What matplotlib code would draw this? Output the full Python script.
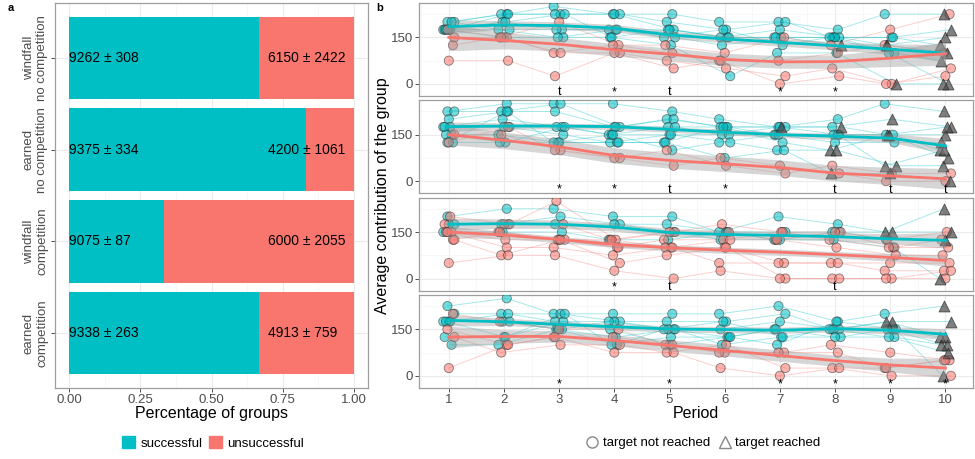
import numpy as np
import matplotlib
matplotlib.use("Agg")
import matplotlib.pyplot as plt
from matplotlib.lines import Line2D
from matplotlib.patches import Patch

plt.rcParams["font.family"] = ["Liberation Sans", "DejaVu Sans"]

TEAL = "#00BFC4"
SALMON = "#F8766D"
GREY_TXT = "#4D4D4D"
BORDER = "#9E9E9E"

# ---- panel a: share of successful groups per condition (top to bottom)
CONDITIONS = ["windfall\nno competition", "earned\nno competition",
              "windfall\ncompetition", "earned\ncompetition"]
SUCCESS_SHARE = [0.667, 0.833, 0.333, 0.667]
SUCCESS_LABELS = ["9262 ± 308", "9375 ± 334", "9075 ± 87", "9338 ± 263"]
FAIL_LABELS = ["6150 ± 2422", "4200 ± 1061", "6000 ± 2055", "4913 ± 759"]

# ---- panel b: contribution of each group per period, one facet per condition
PERIODS = list(range(1, 11))

F1_SUCCESS = [
    [200, 225, 250, 225, 225, 200, 200, 175, 225, 225],
    [200, 225, 225, 225, 200, 175, 200, 150, 150, 175],
    [175, 225, 225, 225, 175, 150, 175, 150, 125, 150],
    [175, 200, 175, 175, 175, 150, 150, 150, 150, 125],
    [175, 175, 175, 175, 150, 125, 150, 125, 125, 100],
    [175, 150, 150, 150, 175, 150, 150, 150, 100, 75],
    [200, 175, 150, 175, 150, 175, 125, 150, 100, 0],
    [175, 200, 225, 150, 125, 25, 100, 100, 0, 0],
]
F1_REACHED = [10, 10, 9, 10, 8, 10, 10, 9]
F1_FAIL = [
    [125, 150, 200, 125, 125, 100, 150, 125, 175, 225],
    [175, 150, 100, 125, 100, 75, 75, 100, 125, 100],
    [150, 150, 100, 100, 75, 50, 25, 50, 0, 50],
    [75, 75, 25, 100, 50, 75, 0, 25, 0, 25],
]

F2_SUCCESS = [
    [225, 250, 250, 250, 225, 200, 175, 200, 250, 225],
    [225, 225, 250, 175, 200, 175, 175, 175, 200, 175],
    [200, 225, 225, 175, 200, 175, 175, 150, 150, 150],
    [175, 200, 175, 150, 175, 175, 150, 150, 150, 100],
    [175, 175, 175, 175, 175, 150, 175, 175, 150, 175],
    [175, 175, 150, 125, 150, 150, 150, 125, 125, 125],
    [150, 150, 125, 125, 125, 175, 125, 100, 150, 75],
    [150, 125, 175, 150, 150, 125, 100, 100, 50, 50],
    [125, 125, 125, 125, 125, 75, 100, 25, 25, 0],
    [125, 225, 125, 150, 100, 125, 150, 150, 50, 100],
]
F2_REACHED = [10, 9, 10, 10, 7, 10, 8, 8, 8, 9]
F2_FAIL = [
    [150, 150, 100, 75, 100, 50, 25, 50, 25, 25],
    [125, 175, 100, 75, 50, 75, 50, 25, 0, 0],
]

F3_SUCCESS = [
    [200, 225, 225, 200, 200, 150, 200, 175, 150, 225],
    [175, 175, 200, 175, 175, 150, 150, 150, 150, 150],
    [175, 175, 175, 175, 150, 125, 125, 150, 125, 125],
    [150, 150, 150, 125, 125, 150, 125, 125, 100, 0],
]
F3_REACHED = [9, 9, 10, 10]
F3_FAIL = [
    [200, 175, 250, 125, 150, 175, 150, 150, 125, 150],
    [175, 175, 175, 125, 150, 150, 125, 150, 100, 125],
    [150, 150, 125, 100, 125, 125, 150, 125, 100, 100],
    [150, 125, 125, 125, 100, 125, 125, 100, 75, 75],
    [125, 150, 125, 100, 100, 100, 50, 50, 50, 50],
    [150, 100, 100, 75, 100, 50, 50, 50, 25, 25],
    [125, 75, 125, 50, 75, 100, 0, 0, 0, 25],
    [50, 75, 75, 25, 0, 25, 0, 0, 0, 0],
]

F4_SUCCESS = [
    [225, 250, 200, 200, 200, 200, 225, 175, 200, 225],
    [200, 200, 200, 175, 175, 175, 200, 150, 175, 175],
    [175, 200, 175, 175, 150, 150, 175, 150, 175, 125],
    [175, 175, 150, 175, 150, 125, 150, 150, 150, 125],
    [175, 175, 150, 125, 150, 100, 125, 125, 150, 100],
    [125, 125, 175, 150, 100, 125, 150, 125, 125, 100],
    [100, 100, 150, 100, 150, 175, 125, 150, 125, 75],
    [175, 125, 200, 100, 125, 125, 100, 175, 150, 0],
]
F4_REACHED = [10, 9, 9, 10, 10, 10, 10, 10]
F4_FAIL = [
    [200, 175, 150, 150, 100, 75, 75, 100, 75, 50],
    [150, 100, 125, 125, 100, 75, 75, 75, 25, 50],
    [125, 75, 100, 100, 75, 100, 25, 25, 0, 0],
    [25, 100, 125, 75, 75, 25, 0, 25, 25, 50],
]

# smoothed means, with ribbon half-widths
SMOOTH_SUCCESS = [
    [185, 190, 188, 180, 158, 145, 134, 123, 112, 99],
    [176, 178, 178, 176, 167, 158, 150, 145, 139, 114],
    [175, 177, 175, 166, 148, 142, 139, 135, 128, 123],
    [179, 174, 166, 158, 151, 149, 147, 152, 147, 134],
]
SMOOTH_FAIL = [
    [150, 140, 128, 110, 96, 79, 71, 72, 83, 98],
    [150, 132, 111, 83, 67, 56, 44, 26, 17, 8],
    [150, 140, 126, 110, 99, 91, 85, 77, 68, 58],
    [125, 127, 127, 114, 98, 82, 65, 49, 35, 25],
]
SE_SUCCESS = [
    [22, 14, 12, 12, 12, 12, 12, 13, 17, 28],
    [15, 10, 9, 9, 9, 9, 9, 10, 14, 24],
    [20, 15, 13, 13, 13, 13, 13, 13, 16, 25],
    [18, 12, 10, 10, 10, 10, 10, 10, 12, 18],
]
SE_FAIL = [
    [43, 27, 22, 20, 20, 20, 20, 22, 27, 38],
    [33, 27, 25, 25, 25, 25, 25, 25, 28, 33],
    [18, 12, 10, 10, 10, 10, 10, 10, 12, 18],
    [35, 22, 18, 18, 18, 18, 18, 18, 22, 32],
]

# significance marks below each facet
MARKS = [
    [(3, "t"), (4, "*"), (5, "t"), (7, "*"), (8, "*")],
    [(3, "*"), (4, "*"), (5, "t"), (6, "*"), (8, "t"), (9, "t"), (10, "t")],
    [(4, "*"), (5, "t"), (8, "t")],
    [(3, "*"), (5, "*"), (7, "*"), (8, "*"), (9, "*"), (10, "*")],
]

FACETS = [
    (F1_SUCCESS, F1_REACHED, F1_FAIL),
    (F2_SUCCESS, F2_REACHED, F2_FAIL),
    (F3_SUCCESS, F3_REACHED, F3_FAIL),
    (F4_SUCCESS, F4_REACHED, F4_FAIL),
]

W, H = 975, 459


def px_axes(fig, left, top, right, bottom):
    return fig.add_axes([left / W, 1 - bottom / H, (right - left) / W, (bottom - top) / H])


def style_axes(ax):
    for sp in ax.spines.values():
        sp.set_color(BORDER)
        sp.set_linewidth(0.9)
    ax.tick_params(which="major", length=3, width=0.6, color="#333333",
                   labelcolor=GREY_TXT, labelsize=9.5, pad=1.5)
    ax.tick_params(which="minor", length=0)
    ax.set_axisbelow(True)
    ax.grid(which="major", color="#EBEBEB", lw=0.8)
    ax.grid(which="minor", color="#F5F5F5", lw=0.5)


def jitter(g, p):
    return ((g * 5 + p * 3) % 9 - 4) * 0.025


fig = plt.figure(figsize=(W / 100, H / 100), dpi=100)

# ---------------- panel a
ax = px_axes(fig, 55, 3, 368, 388)
style_axes(ax)
ypos = np.arange(len(CONDITIONS))[::-1] + 1
share = np.array(SUCCESS_SHARE)
ax.barh(ypos, share, height=0.9, color=TEAL, lw=0)
ax.barh(ypos, 1 - share, left=share, height=0.9, color=SALMON, lw=0)
for y, s_lab, f_lab in zip(ypos, SUCCESS_LABELS, FAIL_LABELS):
    ax.text(0.0, y, s_lab, ha="left", va="center", fontsize=10)
    ax.text(0.70, y, f_lab, ha="left", va="center", fontsize=10)
ax.set_xlim(-0.05, 1.05)
ax.set_ylim(0.4, 4.6)
ax.set_xticks([0, 0.25, 0.5, 0.75, 1.0])
ax.set_xticklabels(["0.00", "0.25", "0.50", "0.75", "1.00"])
ax.set_xticks(np.arange(0.125, 1.0, 0.25), minor=True)
ax.set_yticks(ypos)
ax.set_yticklabels(CONDITIONS, rotation=90, va="center", ha="center",
                   multialignment="center", fontsize=9.5)
ax.tick_params(axis="y", pad=11)
ax.set_xlabel("Percentage of groups", fontsize=11.5, labelpad=0)

fig.legend(handles=[Patch(color=TEAL, label="successful"),
                    Patch(color=SALMON, label="unsuccessful")],
           loc="center", bbox_to_anchor=(213 / W, 1 - 443 / H), ncol=2,
           frameon=False, fontsize=9.5, handlelength=1.0, handleheight=1.0,
           columnspacing=0.5, handletextpad=0.4)

# ---------------- panel b
tops = [3, 100.3, 197.6, 294.9]
axes_b = []
for i, (succ, reached, fail) in enumerate(FACETS):
    ax = px_axes(fig, 419, tops[i], 973, tops[i] + 93)
    axes_b.append(ax)
    style_axes(ax)
    groups = [(traj, TEAL, r) for traj, r in zip(succ, reached)] + \
             [(traj, SALMON, None) for traj in fail]
    circ_x, circ_y, circ_c, tri_x, tri_y = [], [], [], [], []
    for g, (traj, col, r) in enumerate(groups):
        xs = [p + jitter(g, p) for p in PERIODS]
        ax.plot(xs, traj, color=col, lw=0.7, alpha=0.35, zorder=2)
        for x, y, p in zip(xs, traj, PERIODS):
            if r is not None and p >= r:
                tri_x.append(x)
                tri_y.append(y)
            else:
                circ_x.append(x)
                circ_y.append(y)
                circ_c.append(col)
    ax.scatter(circ_x, circ_y, s=44, c=circ_c, alpha=0.55, edgecolors="#222222",
               linewidths=0.6, zorder=3)
    ax.scatter(tri_x, tri_y, s=62, marker="^", c="#4a4a4a", alpha=0.7,
               edgecolors="#222222", linewidths=0.6, zorder=3)
    for sm, se, col in ((SMOOTH_SUCCESS[i], SE_SUCCESS[i], TEAL),
                        (SMOOTH_FAIL[i], SE_FAIL[i], SALMON)):
        sm = np.array(sm)
        se = np.array(se)
        ax.fill_between(PERIODS, sm - se, sm + se, color="#999999", alpha=0.4,
                        lw=0, zorder=4)
        ax.plot(PERIODS, sm, color=col, lw=2, zorder=5)
    for p, sym in MARKS[i]:
        ax.text(p, -37, sym, ha="center", va="baseline", fontsize=9, zorder=6)
    ax.set_xlim(0.46, 10.41)
    ax.set_ylim(-39, 261)
    ax.set_yticks([0, 150])
    ax.set_yticks([75, 225], minor=True)
    ax.set_xticks(PERIODS)
    ax.set_xticks(np.arange(0.5, 10.6, 1.0), minor=True)
    if i < 3:
        ax.tick_params(axis="x", which="both", bottom=False, labelbottom=False)

axes_b[-1].set_xlabel("Period", fontsize=11.5, labelpad=0)
fig.text(382 / W, 1 - 196 / H, "Average contribution of the group", rotation=90,
         ha="center", va="center", fontsize=11.5)

fig.legend(handles=[Line2D([], [], ls="", marker="o", mfc="none", mec="#888888",
                           ms=8, label="target not reached"),
                    Line2D([], [], ls="", marker="^", mfc="none", mec="#888888",
                           ms=9, label="target reached")],
           loc="center", bbox_to_anchor=(703 / W, 1 - 443 / H), ncol=2,
           frameon=False, fontsize=9.5, handlelength=1.0, columnspacing=0.6,
           handletextpad=0.3)

fig.text(8 / W, 1 - 8 / H, "a", fontsize=8, fontweight="bold", ha="left", va="center")
fig.text(376 / W, 1 - 8 / H, "b", fontsize=8, fontweight="bold", ha="left", va="center")

fig.savefig("out.png", dpi=100)
